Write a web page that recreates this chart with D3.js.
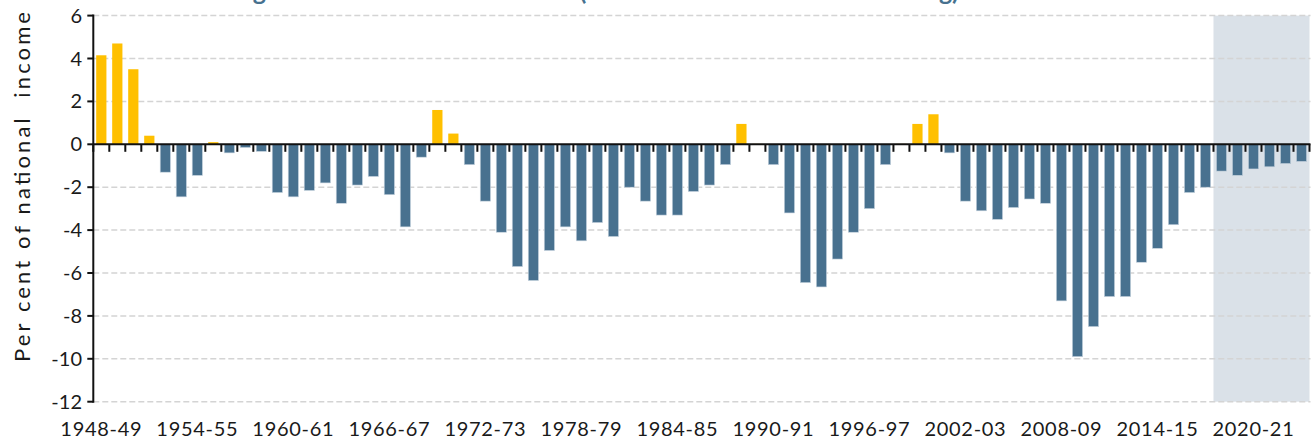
<!DOCTYPE html>
<html>
<head>
<meta charset="utf-8">
<script src="https://cdn.jsdelivr.net/npm/d3@7"></script>
<style>
  html, body { margin: 0; padding: 0; background: #fff; }
  svg { display: block; font-family: Lato, "Noto Sans", sans-serif; }
</style>
</head>
<body>
<svg id="chart" width="1311" height="439"></svg>
<script>
// financial years 1948-49 .. 2023-24
const startYear = 1948, nYears = 76;
const years = [];
for (let i = 0; i < nYears; i++) {
  const yr = startYear + i;
  years.push(yr + "-" + String((yr + 1) % 100).padStart(2, "0"));
}

// net lending, per cent of national income (negative = borrowing)
const values = [
  4.15, 4.7, 3.5, 0.4, -1.3, -2.45, -1.45, 0.1, -0.4, -0.15,
  -0.33, -2.25, -2.45, -2.15, -1.8, -2.75, -1.9, -1.5, -2.35, -3.85,
  -0.6, 1.6, 0.5, -0.95, -2.65, -4.1, -5.7, -6.35, -4.95, -3.85,
  -4.5, -3.65, -4.3, -2.0, -2.65, -3.3, -3.3, -2.2, -1.9, -0.95,
  0.95, 0.02, -0.95, -3.2, -6.45, -6.65, -5.35, -4.1, -3.0, -0.95,
  0.02, 0.95, 1.4, -0.4, -2.65, -3.1, -3.5, -2.95, -2.55, -2.75,
  -7.3, -9.9, -8.5, -7.1, -7.1, -5.5, -4.85, -3.75, -2.25, -2.0,
  -1.25, -1.45, -1.15, -1.05, -0.9, -0.8
];

const forecastStart = "2018-19";
const xTickLabels = ["1948-49","1954-55","1960-61","1966-67","1972-73","1978-79",
  "1984-85","1990-91","1996-97","2002-03","2008-09","2014-15","2020-21"];
const yTicks = [6, 4, 2, 0, -2, -4, -6, -8, -10, -12];

const titleText = "Government borrowing since 1948–49 to 2023–24 (historical and forecast borrowing)";
const yTitle = "Per cent of national  income";

const svg = d3.select("#chart");
const plotLeft = 93.3, plotRight = 1309.5, plotTop = 15.6, plotBottom = 401.7;

const x = d3.scaleBand().domain(years).range([plotLeft, plotRight])
  .paddingInner(0.36).paddingOuter(0.18);
const y = d3.scaleLinear().domain([-12, 6]).range([plotBottom, plotTop]);
const step = x.step();

// title (mostly cropped off the top, as in the source)
svg.append("text")
  .attr("x", 6).attr("y", 0)
  .style("font-size", "25px").style("font-weight", "bold")
  .style("fill", "#47718f")
  .text(titleText);

// forecast shading
const shadeX = x(forecastStart) - step * 0.18;
svg.append("rect")
  .attr("x", shadeX)
  .attr("y", plotTop)
  .attr("width", plotRight - shadeX)
  .attr("height", plotBottom - plotTop)
  .style("fill", "#dae1e8");

// gridlines
svg.append("g").selectAll("line")
  .data(yTicks.filter(d => d !== 0))
  .enter().append("line")
  .attr("x1", plotLeft).attr("x2", plotRight + 1)
  .attr("y1", d => y(d)).attr("y2", d => y(d))
  .style("stroke", "#d4d4d4")
  .style("stroke-width", 1.5)
  .style("stroke-dasharray", "6,3");

// bars
svg.append("g").selectAll("rect")
  .data(values)
  .enter().append("rect")
  .attr("x", (d, i) => x(years[i]))
  .attr("width", x.bandwidth())
  .attr("y", d => y(Math.max(0, d)))
  .attr("height", d => Math.abs(y(d) - y(0)))
  .style("fill", d => d >= 0 ? "#ffc000" : "#48718f")
  .style("stroke", d => d >= 0 ? "none" : "#c9d5e0")
  .style("stroke-width", 0.6);

// x axis line at zero, ticks at band boundaries
const xAxis = svg.append("g");
xAxis.append("line")
  .attr("x1", plotLeft).attr("x2", plotRight + 1)
  .attr("y1", y(0)).attr("y2", y(0))
  .style("stroke", "#111").style("stroke-width", 2);
xAxis.selectAll(".xtick")
  .data(years.concat(["end"]))
  .enter().append("line")
  .attr("class", "xtick")
  .attr("x1", (d, i) => plotLeft + i * step).attr("x2", (d, i) => plotLeft + i * step)
  .attr("y1", y(0)).attr("y2", y(0) + 7.5)
  .style("stroke", "#111").style("stroke-width", 2);

// x tick labels
svg.append("g").selectAll("text")
  .data(xTickLabels)
  .enter().append("text")
  .attr("x", d => x(d) + x.bandwidth() / 2)
  .attr("y", 436)
  .attr("text-anchor", "middle")
  .style("font-size", "20px")
  .style("letter-spacing", "0.7px")
  .style("fill", "#1a1a1a")
  .text(d => d);

// y axis
const yAxis = svg.append("g");
yAxis.append("line")
  .attr("x1", plotLeft).attr("x2", plotLeft)
  .attr("y1", plotTop - 1).attr("y2", plotBottom + 1)
  .style("stroke", "#111").style("stroke-width", 2);
yAxis.selectAll(".ytick")
  .data(yTicks)
  .enter().append("line")
  .attr("x1", plotLeft - 6).attr("x2", plotLeft)
  .attr("y1", d => y(d)).attr("y2", d => y(d))
  .style("stroke", "#111").style("stroke-width", 2);
yAxis.selectAll("text")
  .data(yTicks)
  .enter().append("text")
  .attr("x", 82)
  .attr("y", d => y(d))
  .attr("dy", "0.35em")
  .attr("text-anchor", "end")
  .style("font-size", "20px")
  .style("fill", "#1a1a1a")
  .text(d => String(d));

svg.append("text")
  .attr("transform", "translate(30," + 187 + ") rotate(-90)")
  .attr("text-anchor", "middle")
  .attr("textLength", 350)
  .attr("lengthAdjust", "spacing")
  .style("font-size", "22px")
  .style("fill", "#1a1a1a")
  .style("white-space", "pre")
  .text(yTitle);
</script>
</body>
</html>
